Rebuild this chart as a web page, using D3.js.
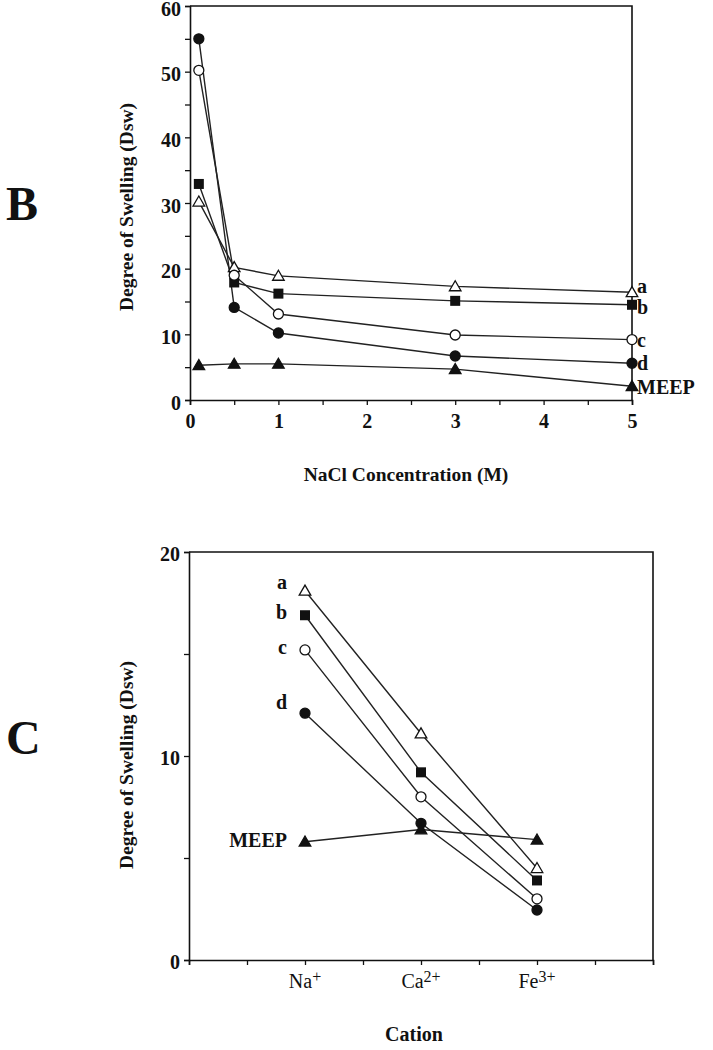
<!DOCTYPE html>
<head>
  <meta charset="utf-8">
  <title>Degree of swelling</title>
  <script src="https://d3js.org/d3.v7.min.js"></script>
  <style>
    body { margin:0; background:#fff; }
    svg { display:block; }
    text { font-family: "Liberation Serif", "Times New Roman", serif; fill:#111; }
  </style>
</head>
<body>
  <svg width="713" height="1050"></svg>
  <script>
    // panel B : swelling vs NaCl concentration
    var nacl = [0.1, 0.5, 1, 3, 5];
    var bA = [30.2, 20.2, 18.9, 17.3, 16.4];
    var bB = [32.9, 17.9, 16.2, 15.1, 14.5];
    var bC = [50.2, 19.0, 13.1, 9.9, 9.2];
    var bD = [55.0, 14.1, 10.2, 6.7, 5.6];
    var bMEEP = [5.3, 5.5, 5.5, 4.7, 2.1];

    // panel C : swelling vs cation
    var cations = ['Na', 'Ca', 'Fe'];
    var cationCharge = ['+', '2+', '3+'];
    var cA = [18.1, 11.1, 4.5];
    var cB = [16.9, 9.2, 3.9];
    var cC = [15.2, 8.0, 3.0];
    var cD = [12.1, 6.7, 2.45];
    var cMEEP = [5.8, 6.4, 5.9];

    var seriesNames = ['a', 'b', 'c', 'd', 'MEEP'];
    var markers = ['triOpen', 'square', 'circleOpen', 'circle', 'tri'];

    var svg = d3.select('svg');
    var ink = '#111';

    function marker(g, type, x, y) {
      var open = type == 'triOpen' || type == 'circleOpen';
      var fill = open ? '#fff' : ink;
      if (type == 'square') {
        g.append('rect').attr('x', x - 5).attr('y', y - 5).attr('width', 10).attr('height', 10).attr('fill', ink);
      } else if (type == 'circle' || type == 'circleOpen') {
        g.append('circle').attr('cx', x).attr('cy', y).attr('r', 5)
          .attr('fill', fill).attr('stroke', ink).attr('stroke-width', 1.3);
      } else {
        g.append('path').attr('d', d3.symbol().type(d3.symbolTriangle).size(58)())
          .attr('transform', 'translate(' + [x, y + 1] + ')')
          .attr('fill', fill).attr('stroke', ink).attr('stroke-width', 1.3);
      }
    }

    function styleAxis(g) {
      g.select('.domain').attr('stroke', ink).attr('stroke-width', 1.6);
      g.selectAll('.tick line').attr('stroke', ink).attr('stroke-width', 1.3);
      g.selectAll('.tick text').attr('fill', ink);
    }

    // ---------- B ----------
    var xB = d3.scaleLinear().domain([0, 5]).range([190, 632]);
    var yB = d3.scaleLinear().domain([0, 60]).range([400, 6]);
    var gB = svg.append('g');

    // frame
    gB.append('path')
      .attr('d', 'M' + xB(0) + ',' + yB(60) + 'H' + xB(5) + 'V' + yB(0))
      .attr('fill', 'none').attr('stroke', ink).attr('stroke-width', 1.6);

    gB.append('g').attr('transform', 'translate(0,' + yB(0) + ')')
      .call(d3.axisBottom(xB).tickValues(d3.range(0, 5.01, 0.5)).tickSize(5)
        .tickFormat(d => d % 1 == 0 ? d : ''))
      .call(styleAxis)
      .selectAll('text').attr('font-size', 20).attr('font-weight', 'bold').attr('dy', '1em');
    gB.append('g').attr('transform', 'translate(' + xB(0) + ',0)')
      .call(d3.axisLeft(yB).tickValues(d3.range(0, 61, 5)).tickSize(5)
        .tickFormat(d => d % 10 == 0 ? d : ''))
      .call(styleAxis)
      .selectAll('text').attr('font-size', 20).attr('font-weight', 'bold')
        .attr('dx', '-0.05em').attr('dy', '0.45em');

    var lineB = d3.line().x((d, i) => xB(nacl[i])).y(d => yB(d));
    [bA, bB, bC, bD, bMEEP].forEach(function(s, k) {
      gB.append('path').attr('d', lineB(s)).attr('fill', 'none')
        .attr('stroke', '#222').attr('stroke-width', 1.4);
    });
    var labOffB = [1, 9, 7, 7, 8];
    [bA, bB, bC, bD, bMEEP].forEach(function(s, k) {
      s.forEach((v, i) => marker(gB, markers[k], xB(nacl[i]), yB(v)));
      gB.append('text').attr('x', xB(5) + 5).attr('y', yB(s[s.length - 1]) + labOffB[k])
        .attr('font-size', 20).attr('font-weight', 'bold').text(seriesNames[k]);
    });

    gB.append('text').attr('x', 406).attr('y', 481).attr('text-anchor', 'middle')
      .attr('font-size', 19.5).attr('font-weight', 'bold').text('NaCl Concentration (M)');
    gB.append('text').attr('transform', 'translate(133,207) rotate(-90)').attr('text-anchor', 'middle')
      .attr('font-size', 19.5).attr('font-weight', 'bold').text('Degree of Swelling (Dsw)');
    gB.append('text').attr('x', 6).attr('y', 220)
      .attr('font-size', 48).attr('font-weight', 'bold').text('B');

    // ---------- C ----------
    var xC = d3.scalePoint().domain(['', ...cations, ' ']).range([189, 653]);
    var xCl = d3.scaleLinear().domain([0, 4]).range([189, 653]);
    var yC = d3.scaleLinear().domain([0, 20]).range([960, 552]);
    var gC = svg.append('g');

    gC.append('path')
      .attr('d', 'M' + xCl(0) + ',' + yC(20) + 'H' + xCl(4) + 'V' + yC(0))
      .attr('fill', 'none').attr('stroke', ink).attr('stroke-width', 1.6);

    gC.append('g').attr('transform', 'translate(0,' + yC(0) + ')')
      .call(d3.axisBottom(xCl).tickValues(d3.range(0, 4.01, 0.5)).tickSize(5).tickFormat(''))
      .call(styleAxis);
    cations.forEach(function(c, i) {
      var t = gC.append('text').attr('x', xC(c)).attr('y', yC(0) + 28)
        .attr('text-anchor', 'middle').attr('font-size', 20);
      t.append('tspan').text(c);
      t.append('tspan').attr('dy', -6).attr('font-size', 16).text(cationCharge[i]);
    });
    gC.append('g').attr('transform', 'translate(' + xCl(0) + ',0)')
      .call(d3.axisLeft(yC).tickValues([0, 5, 10, 15, 20]).tickSize(5)
        .tickFormat(d => d % 10 == 0 ? d : ''))
      .call(styleAxis)
      .selectAll('text').attr('font-size', 20).attr('font-weight', 'bold')
        .attr('dx', '-0.05em').attr('dy', '0.4em');

    var lineC = d3.line().x((d, i) => xC(cations[i])).y(d => yC(d));
    [cA, cB, cC, cD, cMEEP].forEach(function(s) {
      gC.append('path').attr('d', lineC(s)).attr('fill', 'none')
        .attr('stroke', '#222').attr('stroke-width', 1.4);
    });
    var labOffC = [-2, 4, 4, -4, 5];
    [cA, cB, cC, cD, cMEEP].forEach(function(s, k) {
      s.forEach((v, i) => marker(gC, markers[k], xC(cations[i]), yC(v)));
      gC.append('text').attr('x', xC(cations[0]) - 18).attr('y', yC(s[0]) + labOffC[k])
        .attr('text-anchor', 'end')
        .attr('font-size', 20).attr('font-weight', 'bold').text(seriesNames[k]);
    });

    gC.append('text').attr('x', 414).attr('y', 1041).attr('text-anchor', 'middle')
      .attr('font-size', 20).attr('font-weight', 'bold').text('Cation');
    gC.append('text').attr('transform', 'translate(133,765) rotate(-90)').attr('text-anchor', 'middle')
      .attr('font-size', 19.5).attr('font-weight', 'bold').text('Degree of Swelling (Dsw)');
    gC.append('text').attr('x', 6).attr('y', 754)
      .attr('font-size', 48).attr('font-weight', 'bold').text('C');
  </script>
</body>
